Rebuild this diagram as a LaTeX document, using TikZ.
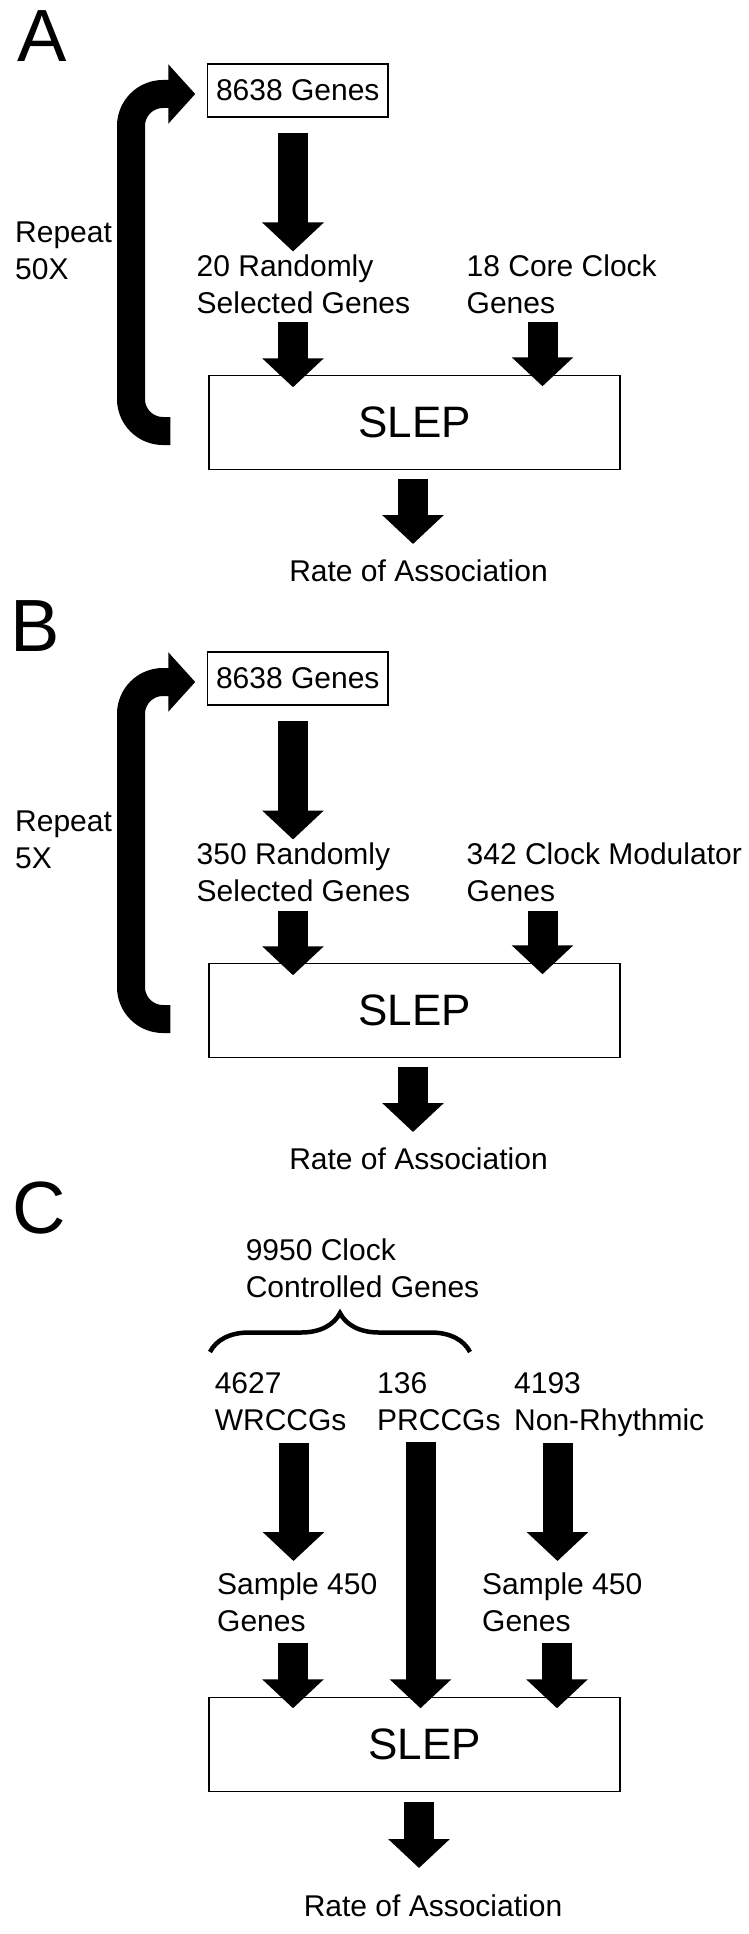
\documentclass[tikz,border=0pt]{standalone}
\usepackage{fontspec}
\setmainfont{Liberation Sans}
\usetikzlibrary{arrows.meta,positioning,decorations.pathreplacing}
\tikzset{box/.style={draw,line width=1.5pt,inner sep=0pt}}
\tikzset{slep/.style={box,minimum width=411pt,minimum height=94pt,font=\fontsize{44}{50}\selectfont}}
\tikzset{lbl/.style={align=left,inner sep=0pt}}
\tikzset{panel/.style={anchor=north west,inner sep=0pt,font=\fontsize{74}{80}\selectfont}}
\tikzset{fat/.style={line width=30pt,-{Triangle[width=60pt,length=29pt]}}}
\tikzset{back/.style={line width=28pt,rounded corners=32pt,-{Triangle[width=58pt,length=27pt]}}}
\tikzset{curly/.style={decorate,decoration={brace,amplitude=39pt},line width=4.5pt}}

\begin{document}
\begin{tikzpicture}[x=1pt,y=1pt,on grid,font=\fontsize{30}{37}\selectfont]
        \useasboundingbox (0,0) rectangle (748,-1934);
        % A
        \node(labA)[panel] at (17,-10){A};
        \node(genesA)[box,minimum width=180.5pt,minimum height=53pt] at (297.75,-90.5){8638 Genes};
        \node(randA)[lbl,below left=223pt and 101.25pt of genesA,anchor=base west]{20 Randomly\\Selected Genes};
        \node(coreA)[lbl,below right=223pt and 168.75pt of genesA,anchor=base west]{18 Core Clock\\Genes};
        \node(slepA)[slep,below right=332pt and 116.75pt of genesA]{SLEP};
        \node(rateA)[below right=158.5pt and 4pt of slepA,anchor=base]{Rate of Association};
        \node(repA)[lbl,below left=189.5pt and 282.75pt of genesA,anchor=base west]{Repeat\\50X};
        \draw[fat] ([xshift=-4.75pt,yshift=-15pt]genesA.south) -- ([xshift=96.5pt,yshift=62pt]randA.base west);
        \draw[fat] ([xshift=96.5pt,yshift=-9pt]randA.base west) -- ([xshift=-121.5pt,yshift=-12.5pt]slepA.north);
        \draw[fat] ([xshift=76pt,yshift=-9pt]coreA.base west) -- ([xshift=128pt,yshift=-11.5pt]slepA.north);
        \draw[fat] ([xshift=-1.5pt,yshift=-8.5pt]slepA.south) -- ([xshift=-5.5pt,yshift=37pt]rateA.base);
        \draw[back] ([xshift=-38pt,yshift=-8.5pt]slepA.west) -- ++(-39.25,0)
          |- ([xshift=-11.5pt,yshift=-3.5pt]genesA.west);
        % B
        \node(labB)[panel] at (10.6,-600){B};
        \node(genesB)[box,minimum width=180.5pt,minimum height=53pt,below=588pt of genesA]{8638 Genes};
        \node(randB)[lbl,below left=223pt and 101.25pt of genesB,anchor=base west]{350 Randomly\\Selected Genes};
        \node(modB)[lbl,below right=223pt and 168.75pt of genesB,anchor=base west]{342 Clock Modulator\\Genes};
        \node(slepB)[slep,below=588pt of slepA]{SLEP};
        \node(rateB)[below right=158.5pt and 4pt of slepB,anchor=base]{Rate of Association};
        \node(repB)[lbl,below left=189.5pt and 282.75pt of genesB,anchor=base west]{Repeat\\5X};
        \draw[fat] ([xshift=-4.75pt,yshift=-15pt]genesB.south) -- ([xshift=96.5pt,yshift=62pt]randB.base west);
        \draw[fat] ([xshift=96.5pt,yshift=-9pt]randB.base west) -- ([xshift=-121.5pt,yshift=-12.5pt]slepB.north);
        \draw[fat] ([xshift=76pt,yshift=-9pt]modB.base west) -- ([xshift=128pt,yshift=-11.5pt]slepB.north);
        \draw[fat] ([xshift=-1.5pt,yshift=-8.5pt]slepB.south) -- ([xshift=-5.5pt,yshift=37pt]rateB.base);
        \draw[back] ([xshift=-38pt,yshift=-8.5pt]slepB.west) -- ++(-39.25,0)
          |- ([xshift=-11.5pt,yshift=-3.5pt]genesB.west);
        % C
        \node(labC)[panel] at (12.4,-1182){C};
        \node(slepC)[slep,below=734pt of slepB]{\hspace*{20pt}SLEP};
        \node(wrC)[lbl,above left=314.5pt and 199.9pt of slepC,anchor=base west]{4627\\WRCCGs};
        \node(prC)[lbl,right=162.4pt of wrC.base west,anchor=base west]{136\\PRCCGs};
        \node(nrC)[lbl,right=299.4pt of wrC.base west,anchor=base west]{4193\\Non-Rhythmic};
        \node(cccC)[lbl,above right=133pt and 31pt of wrC.base west,anchor=base west]{9950 Clock\\Controlled Genes};
        \node(samL)[lbl,below right=201pt and 2.4pt of wrC.base west,anchor=base west]{Sample 450\\Genes};
        \node(samR)[lbl,right=265pt of samL.base west,anchor=base west]{Sample 450\\Genes};
        \node(rateC)[below right=171.5pt and 18.5pt of slepC,anchor=base]{Rate of Association};
        \coordinate[above left=78pt and 4.6pt of wrC.base west] (brL);
        \coordinate[right=260pt of brL] (brR);
        \draw[curly] (brL) -- (brR);
        \draw[fat] ([xshift=78.9pt,yshift=-13pt]wrC.base west) -- ([xshift=76.5pt,yshift=70pt]samL.base west);
        \draw[fat] ([xshift=43.5pt,yshift=-11.5pt]prC.base west) -- ([xshift=6pt,yshift=-11.5pt]slepC.north);
        \draw[fat] ([xshift=43.5pt,yshift=-13pt]nrC.base west) -- ([xshift=75.5pt,yshift=70pt]samR.base west);
        \draw[fat] ([xshift=76pt,yshift=-12pt]samL.base west) -- ([xshift=-121.5pt,yshift=-11.5pt]slepC.north);
        \draw[fat] ([xshift=75pt,yshift=-12pt]samR.base west) -- ([xshift=142.5pt,yshift=-11.5pt]slepC.north);
        \draw[fat] ([xshift=4.5pt,yshift=-10pt]slepC.south) -- ([xshift=-14pt,yshift=48pt]rateC.base);
      \end{tikzpicture}
\end{document}
